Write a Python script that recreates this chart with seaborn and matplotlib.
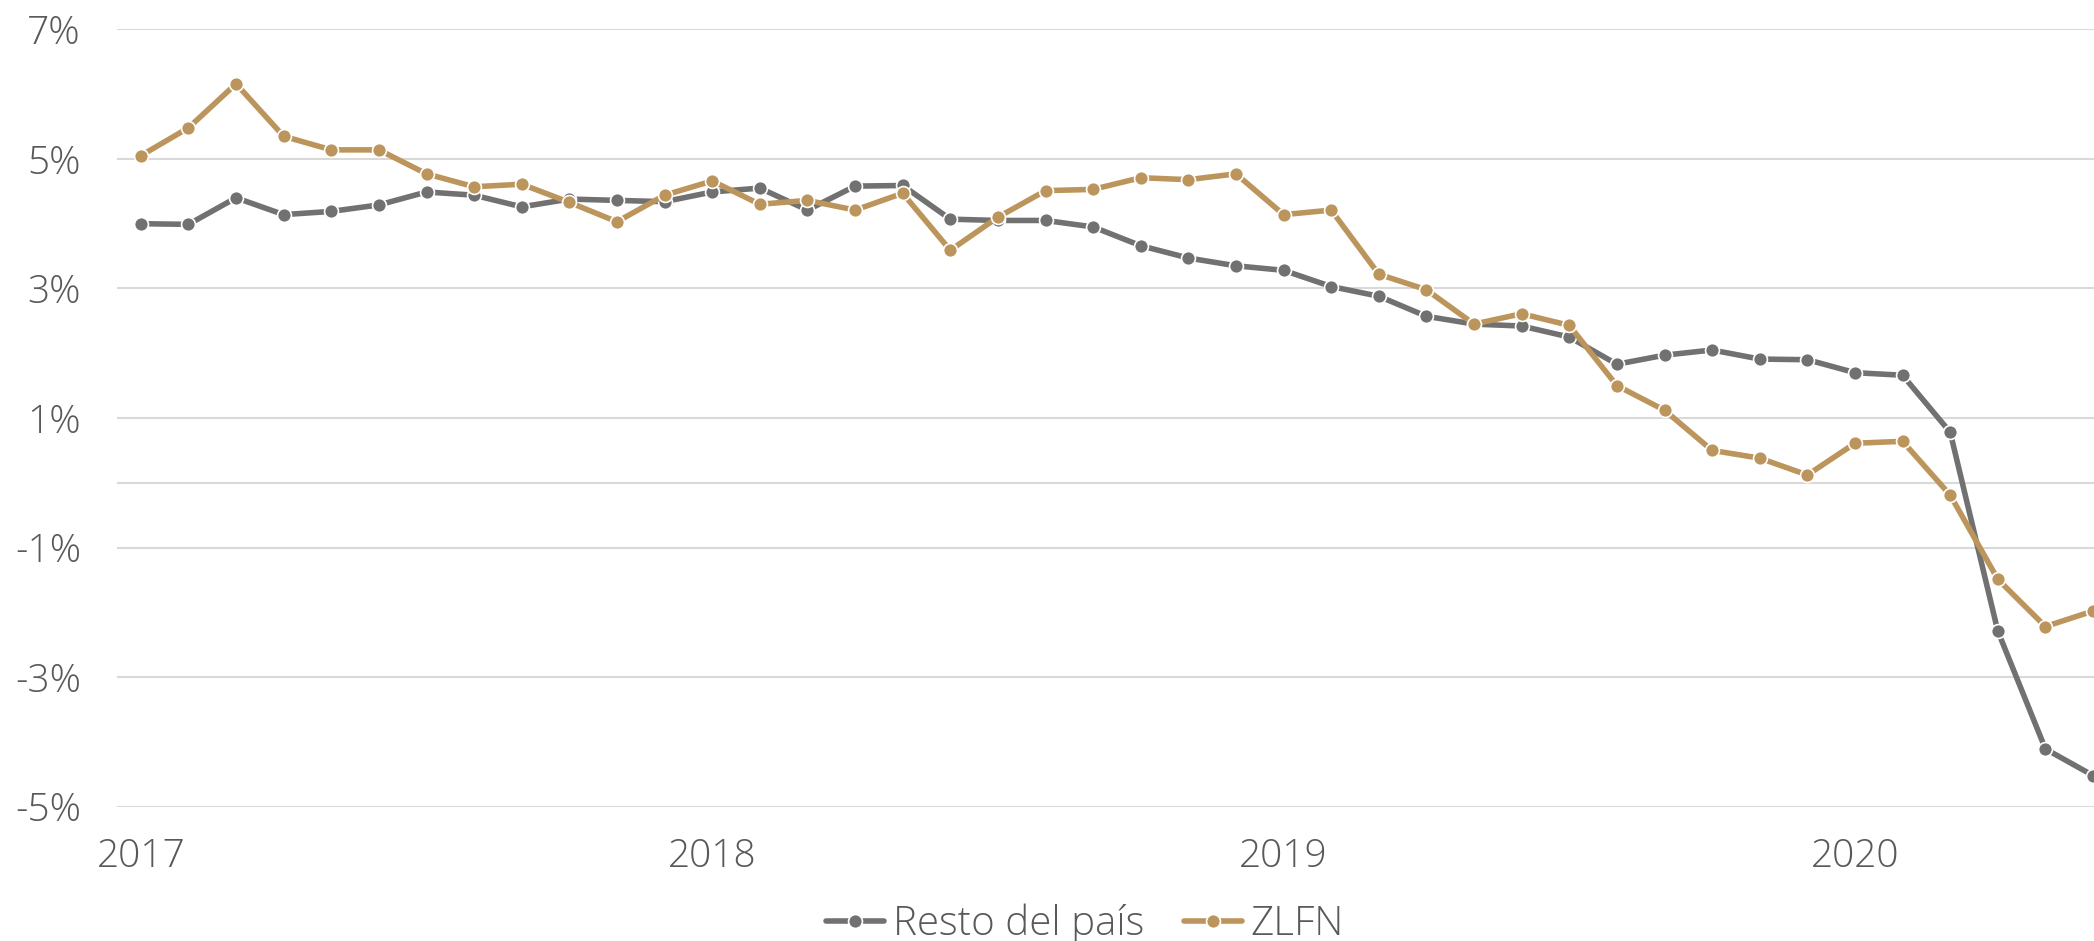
import pandas as pd
import matplotlib.pyplot as plt
import seaborn as sns
from matplotlib.lines import Line2D
from matplotlib.ticker import FuncFormatter

# Monthly data, Jan 2017 - Jun 2020 (annual % change)
months = pd.date_range("2017-01-01", periods=42, freq="MS")

resto = [4.00, 3.99, 4.40, 4.14, 4.19, 4.29, 4.49, 4.44, 4.26, 4.38, 4.36, 4.34,
         4.49, 4.55, 4.21, 4.58, 4.59, 4.07, 4.05, 4.05, 3.95, 3.66, 3.47, 3.35,
         3.28, 3.03, 2.88, 2.57, 2.45, 2.42, 2.25, 1.83, 1.97, 2.05, 1.91, 1.90,
         1.70, 1.66, 0.78, -2.29, -4.11, -4.52]

zlfn = [5.05, 5.48, 6.16, 5.35, 5.14, 5.14, 4.77, 4.57, 4.61, 4.33, 4.03, 4.44,
        4.66, 4.30, 4.36, 4.21, 4.47, 3.59, 4.10, 4.51, 4.53, 4.71, 4.68, 4.77,
        4.14, 4.21, 3.22, 2.98, 2.45, 2.61, 2.43, 1.50, 1.12, 0.50, 0.38, 0.12,
        0.61, 0.64, -0.19, -1.49, -2.22, -1.98]

series_names = ["Resto del país", "ZLFN"]
colors = {"Resto del país": "#717171", "ZLFN": "#BC955C"}
year_ticks = [0, 12, 24, 36]
year_labels = ["2017", "2018", "2019", "2020"]
y_ticks = [-5, -3, -1, 1, 3, 5, 7]

df = pd.DataFrame({
    "pos": list(range(len(months))) * 2,
    "valor": resto + zlfn,
    "serie": [series_names[0]] * len(resto) + [series_names[1]] * len(zlfn),
})

sns.set_style("white")
plt.rcParams["font.family"] = ["Open Sans", "DejaVu Sans"]
text_color = "#595959"
grid_color = "#D9D9D9"

W, H = 2094, 941
fig = plt.figure(figsize=(W / 100, H / 100), dpi=100)
ax = fig.add_axes([117 / W, (H - 806.6) / H, (W - 117) / W, 777.2 / H])

# gridlines plus the zero axis line
for y in y_ticks + [0]:
    ax.axhline(y, color=grid_color, lw=1.5, zorder=0)

sns.lineplot(data=df, x="pos", y="valor", hue="serie", hue_order=series_names,
             palette=colors, marker="o", markersize=10, markeredgecolor="white",
             markeredgewidth=1.2, linewidth=4, legend=False, ax=ax)

ax.set_xlim(-0.5, 41.02)
ax.set_ylim(-5, 7)
ax.set_yticks(y_ticks)
ax.yaxis.set_major_formatter(FuncFormatter(lambda v, p: f"{v:.0f}%"))
ax.set_xticks(year_ticks)
ax.set_xticklabels(year_labels)
ax.set_xlabel("")
ax.set_ylabel("")
ax.grid(False)
for s in ax.spines.values():
    s.set_visible(False)
ax.tick_params(axis="y", length=0, pad=26, labelsize=28, labelcolor=text_color)
ax.tick_params(axis="x", length=0, pad=22, labelsize=28, labelcolor=text_color)
for lab in ax.get_xticklabels() + ax.get_yticklabels():
    lab.set_fontweight("light")

handles = [Line2D([], [], color=colors[n], lw=4, marker="o", markersize=10,
                  markeredgecolor="white", markeredgewidth=1.2) for n in series_names]
leg = fig.legend(handles, series_names, loc="center", bbox_to_anchor=(1085 / W, (H - 924) / H),
                 ncol=2, frameon=False, fontsize=29, handlelength=1.45, handletextpad=0.2,
                 columnspacing=1.0, borderpad=0)
for t in leg.get_texts():
    t.set_color(text_color)
    t.set_fontweight("light")

fig.savefig("out.png", dpi=100)
